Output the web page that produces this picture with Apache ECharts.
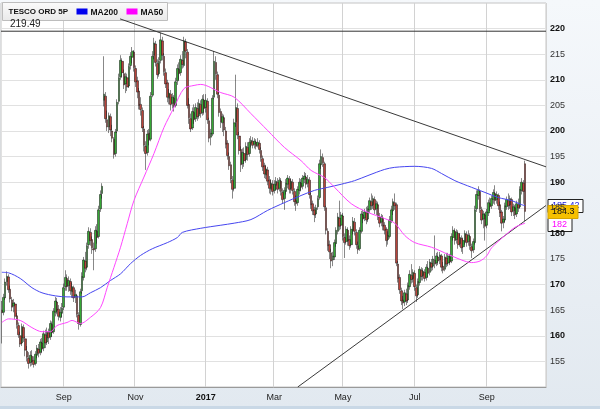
<!DOCTYPE html>
<html><head><meta charset="utf-8">
<script src="https://cdn.jsdelivr.net/npm/echarts/dist/echarts.min.js"></script>
<style>html,body{margin:0;padding:0;background:#fff}#c{width:600px;height:409px}</style>
</head><body><div id="c"></div>
<script>
// ---------- data ----------
const seriesName = 'TESCO ORD 5P';
const startDate = '2016-07-11';
const tradingDayCount = 326;
const holidays = ['2016-08-29','2016-12-26','2016-12-27','2017-01-02','2017-04-14','2017-04-17','2017-05-01','2017-05-29','2017-08-28'];
const monthNames = ['Jan','Feb','Mar','Apr','May','Jun','Jul','Aug','Sep','Oct','Nov','Dec'];
const yMin = 150, yMax = 225, yStep = 5;
// [open, close, low, high], one per trading day from startDate
const candles = [
[165.0,164.5,158.5,166.8],[164.6,167.5,164.0,168.2],[167.4,170.5,167.0,171.2],[170.6,171.6,169.8,172.6],[171.5,169.0,168.4,172.0],
[169.1,167.2,166.5,169.8],[167.0,165.6,164.8,167.6],[165.8,166.4,164.6,167.2],[166.2,163.8,163.2,166.6],[163.9,162.2,161.4,164.5],
[162.0,160.2,159.6,162.6],[160.0,158.4,157.8,160.8],[158.6,161.8,158.0,162.4],[161.6,159.6,158.8,162.2],[159.4,157.2,156.0,159.8],
[157.0,155.8,155.0,158.0],[155.6,154.6,153.6,156.8],[154.8,156.2,154.0,157.0],[156.0,155.0,154.2,157.2],[155.2,154.4,153.8,156.0],
[154.6,156.4,154.2,157.0],[156.2,157.6,155.6,158.2],[157.4,156.6,155.8,158.4],[156.8,158.8,156.2,159.4],[158.6,157.4,156.6,159.6],
[157.6,160.4,157.0,161.0],[160.2,158.6,157.6,161.2],[158.8,160.8,158.2,161.6],[160.6,159.6,158.4,161.4],[159.8,162.4,159.2,163.0],
[162.2,160.6,159.8,162.8],[160.8,164.8,160.4,165.4],[164.6,166.8,163.8,167.6],[166.6,165.0,164.2,167.4],[165.2,163.8,163.0,166.0],
[163.6,164.6,162.8,165.6],[164.4,165.4,163.6,166.4],[165.6,169.4,165.0,170.2],[169.6,171.4,168.8,172.8],[171.2,169.6,168.8,172.0],
[169.8,170.8,168.6,171.6],[170.6,168.8,168.0,171.2],[168.6,169.6,167.4,170.4],[169.4,167.4,166.6,169.8],[167.6,168.0,166.4,169.0],
[167.8,164.2,163.6,168.2],[164.0,162.4,161.2,164.6],[162.2,168.6,161.8,169.2],[168.8,171.6,168.2,172.4],[171.4,174.8,170.8,175.4],
[174.6,173.2,172.4,176.4],[173.4,177.6,172.8,178.2],[177.8,180.4,177.0,181.2],[180.2,178.6,177.6,181.0],[178.8,177.2,176.0,179.4],
[177.0,176.8,172.8,178.2],[177.0,180.6,176.4,181.4],[180.4,179.2,178.0,181.8],[179.4,184.6,179.0,185.4],[184.8,187.6,184.2,188.4],
[187.8,189.2,186.8,189.8],[206.0,207.2,204.8,214.6],[206.8,202.4,201.6,207.6],[202.2,200.8,200.0,204.0],[200.8,203.0,199.6,203.6],
[202.8,200.2,199.0,203.4],[200.0,198.6,197.8,201.2],[198.4,195.4,194.6,198.8],[195.6,199.8,195.0,200.4],[200.0,205.6,199.6,206.2],
[205.8,210.4,205.2,211.2],[210.6,213.8,210.0,214.8],[213.6,211.4,210.4,214.2],[211.2,209.0,208.2,212.0],[209.2,210.6,207.4,211.4],
[210.4,208.6,207.8,211.2],[208.8,212.6,208.4,213.2],[212.8,214.6,212.0,215.4],[214.4,215.6,213.2,216.4],[215.4,212.4,211.6,215.8],
[212.2,209.6,208.6,212.8],[209.8,207.6,206.4,210.6],[207.8,205.0,204.2,208.4],[205.2,204.2,203.0,206.6],[204.0,200.6,199.8,204.6],
[200.4,197.2,196.0,201.0],[197.0,195.6,192.4,198.0],[195.8,199.4,195.2,200.2],[199.6,198.2,197.2,200.4],[198.4,206.8,198.0,207.6],
[207.0,214.6,206.6,215.6],[214.8,217.2,214.0,218.2],[217.0,213.4,212.6,217.6],[213.2,211.0,210.2,214.0],[211.2,213.6,210.6,214.4],
[213.8,217.8,213.2,219.2],[217.6,214.8,213.8,218.4],[214.6,211.6,210.8,215.2],[211.4,209.2,208.4,212.2],[209.4,206.6,205.6,210.0],
[206.4,207.4,205.2,208.2],[207.2,205.2,204.0,208.0],[205.4,206.6,204.4,207.4],[206.4,204.8,203.8,207.0],[205.0,209.6,204.6,210.4],
[209.8,212.2,209.0,213.0],[212.0,211.2,210.0,213.4],[211.4,214.0,210.8,214.8],[213.8,213.0,212.2,215.6],[212.8,217.6,212.4,218.4],
[217.4,215.6,214.2,218.0],[215.4,205.0,204.4,216.0],[205.2,202.6,201.4,206.4],[202.4,200.4,199.8,203.4],[200.6,203.8,200.2,204.6],
[203.6,202.2,201.4,205.2],[202.4,204.6,201.8,205.4],[204.4,202.8,202.0,205.6],[203.0,205.4,202.4,206.2],[205.2,203.4,202.6,206.0],
[203.6,206.2,203.0,207.0],[206.0,204.4,203.2,207.2],[204.6,206.0,203.6,207.2],[205.8,202.2,201.4,206.4],[202.0,198.6,197.8,202.6],
[198.8,199.6,197.2,200.4],[199.4,206.4,199.0,207.0],[206.6,213.6,206.2,215.6],[213.4,211.2,210.0,214.6],[211.0,207.2,206.4,211.6],
[207.0,203.6,202.8,207.6],[203.8,201.8,200.6,204.4],[201.6,202.8,199.8,203.4],[202.6,200.2,199.0,203.2],[200.0,197.4,196.6,200.8],
[197.6,195.2,194.4,198.2],[195.0,193.2,192.4,195.8],[193.4,190.6,189.8,194.0],[190.4,188.6,186.8,191.2],[188.8,201.6,188.2,202.4],
[201.8,204.6,200.8,211.0],[204.4,199.2,198.4,205.4],[199.0,196.2,195.4,199.8],[196.4,193.4,192.0,197.0],[193.6,195.8,192.6,196.6],
[195.6,194.2,193.0,196.8],[194.4,197.0,193.8,197.8],[196.8,195.4,194.2,197.8],[195.6,197.8,195.0,198.6],[197.6,198.2,196.8,199.0],
[198.0,197.2,196.6,198.8],[197.4,198.0,196.6,198.6],[197.8,197.0,196.4,198.4],[197.2,197.8,196.8,198.6],[197.6,196.4,195.6,198.2],
[196.2,194.8,194.0,196.8],[194.6,193.0,192.2,195.2],[193.2,191.6,190.8,193.8],[191.4,192.6,190.6,193.4],[192.4,190.2,189.4,193.0],
[190.4,188.8,187.8,191.2],[188.6,189.8,187.6,190.6],[189.6,188.2,187.4,190.4],[188.4,189.6,187.8,190.4],[189.4,190.2,188.4,191.0],
[190.0,188.6,187.8,190.8],[188.8,190.4,188.2,191.0],[190.2,188.2,187.4,190.8],[188.0,186.6,185.8,188.8],[186.8,188.4,184.6,189.0],
[188.2,189.8,187.6,190.6],[189.6,190.8,188.8,191.4],[190.6,188.6,187.8,191.2],[188.8,190.2,187.8,190.8],[190.0,188.4,187.6,190.6],
[188.2,186.2,185.4,188.8],[186.4,185.8,184.4,187.4],[186.0,188.6,185.4,189.2],[188.4,190.0,187.6,190.8],[189.8,189.0,188.2,190.6],
[189.2,190.8,188.6,191.4],[190.6,191.2,189.8,192.0],[191.0,189.6,188.8,191.8],[189.8,190.6,189.0,191.4],[190.4,187.6,186.8,191.0],
[187.4,185.6,184.8,188.0],[185.8,184.4,183.6,186.4],[184.6,183.6,182.2,185.2],[183.8,185.0,183.0,185.6],[185.2,186.8,184.6,187.4],
[187.0,193.6,186.6,194.4],[193.4,195.0,192.6,196.4],[194.8,193.8,193.0,195.6],[193.6,185.2,184.4,194.0],[185.0,180.6,179.8,185.4],
[180.4,177.6,176.6,181.0],[177.8,176.4,175.0,178.6],[176.2,174.6,173.2,177.0],[174.8,175.6,173.6,176.4],[175.4,178.2,174.8,178.8],
[178.0,180.6,177.4,181.2],[180.4,183.2,179.8,184.0],[183.0,181.4,180.6,186.4],[181.6,183.6,180.8,184.2],[183.4,179.4,178.6,184.0],
[179.2,178.2,175.2,180.0],[178.4,180.8,177.8,181.4],[180.6,178.6,177.6,181.2],[178.8,177.6,176.8,179.6],[177.8,180.8,177.2,181.4],
[180.6,182.4,179.8,183.2],[182.2,180.4,179.6,183.0],[180.2,177.8,177.0,180.8],[177.6,176.8,176.0,178.4],[177.0,180.6,176.6,181.2],
[180.4,183.8,180.0,184.4],[183.6,182.8,182.0,184.6],[183.0,184.2,182.4,184.8],[184.0,182.6,181.8,185.2],[182.8,184.8,182.2,185.4],
[184.6,186.4,184.0,187.0],[186.2,185.4,184.6,187.8],[185.6,186.8,184.8,187.4],[186.6,184.6,183.8,187.2],[184.8,185.8,183.6,186.4],
[185.6,183.4,182.6,186.2],[183.2,182.0,181.2,184.0],[182.2,183.2,181.4,183.8],[183.0,181.4,180.6,183.6],[181.6,180.6,179.8,182.2],
[180.8,178.6,177.4,181.2],[178.8,179.6,177.8,180.4],[179.4,182.6,179.0,183.4],[182.4,184.6,182.0,185.4],[184.4,186.2,183.6,186.8],
[186.0,185.4,184.6,187.8],[185.6,174.2,173.6,186.0],[174.0,171.2,170.4,174.6],[171.4,169.0,168.2,172.0],[168.8,166.8,166.0,169.4],
[167.0,166.4,165.2,167.8],[166.6,168.4,165.8,169.0],[168.2,166.8,166.0,169.2],[167.0,169.8,166.4,170.4],[169.6,172.0,169.0,172.8],
[171.8,171.0,170.2,174.0],[171.2,172.4,170.4,173.0],[172.2,169.6,168.8,172.8],[169.4,167.8,166.6,170.0],[168.0,170.6,167.4,171.2],
[170.4,173.0,169.8,173.6],[172.8,171.6,170.8,173.4],[171.8,172.6,170.8,173.2],[172.4,171.2,170.6,173.0],[171.4,173.4,170.8,174.0],
[173.2,172.2,171.4,174.6],[172.4,174.4,171.8,175.0],[174.2,173.4,172.6,175.0],[173.6,175.0,172.8,175.6],[174.8,174.0,173.2,179.6],
[174.2,175.6,173.6,176.2],[175.4,174.6,173.8,176.4],[174.8,175.8,174.0,176.4],[175.6,173.4,172.6,176.0],[173.6,172.8,172.2,174.4],
[173.0,175.4,172.6,176.0],[175.2,174.0,173.4,176.2],[174.2,175.6,173.6,176.2],[175.4,174.4,173.8,176.0],[174.6,179.4,174.2,180.0],
[179.2,180.6,178.6,181.4],[180.4,178.6,177.8,181.0],[178.8,180.2,178.0,180.8],[180.0,177.8,177.0,180.6],[178.0,179.2,177.4,180.0],
[179.0,177.2,176.4,179.6],[177.4,178.6,176.0,179.2],[178.4,180.0,177.8,180.6],[179.8,178.2,177.4,180.4],[178.4,179.6,177.6,180.6],
[179.4,177.6,176.8,180.0],[177.4,176.6,175.2,178.0],[176.8,178.4,176.2,179.0],[178.2,184.6,177.8,185.4],[184.8,187.6,184.2,188.4],
[187.4,188.4,186.6,189.2],[188.2,184.8,184.0,188.6],[184.6,182.6,181.8,185.2],[182.8,183.8,181.0,184.4],[183.6,181.4,178.6,184.0],
[181.6,184.2,181.0,184.8],[184.0,186.0,183.4,186.6],[185.8,185.2,184.4,187.0],[185.4,186.8,184.8,187.4],[186.6,188.0,185.8,188.6],
[187.8,186.4,185.6,189.4],[186.6,187.6,185.8,188.2],[187.4,185.4,184.6,187.8],[185.6,184.0,183.2,186.2],[184.2,182.0,180.4,184.6],
[182.2,182.8,181.0,183.4],[182.6,185.4,182.0,186.0],[185.2,186.6,184.6,187.2],[186.4,185.4,184.6,187.8],[185.6,186.8,184.8,187.4],
[186.6,184.2,183.4,187.0],[184.4,185.2,183.4,185.8],[185.0,183.6,182.8,185.6],[183.8,185.8,183.2,186.4],[185.6,185.0,184.2,186.8],
[185.2,188.6,184.8,189.2],[188.4,190.0,187.6,190.8],[189.8,188.2,185.8,190.4],[193.6,184.3,182.4,194.2]
];
// moving averages read at sample trading days: [tradingDayIndex, value]
const ma200 = [[0,172.4],[4,172.3],[11,171.2],[18,169.4],[24,168.4],[32,167.8],[39,167.6],[48,167.6],[53,168.4],[59,169.4],
[65,170.8],[71,172.1],[77,174.1],[83,175.7],[90,177.0],[99,178.2],[105,179.2],[108,180.2],[119,181.0],[131,181.6],[139,182.0],
[149,182.7],[159,184.5],[169,186.0],[179,187.4],[187,188.4],[195,189.0],[203,189.6],[211,190.3],[219,191.3],[229,192.5],
[235,192.9],[247,193.1],[257,192.7],[263,191.7],[271,190.3],[281,189.0],[289,188.0],[297,187.0],[305,186.4],[311,185.6],[313,185.42]];
const ma50 = [[0,162.6],[4,163.3],[11,163.0],[18,161.6],[24,160.8],[29,160.8],[33,162.0],[39,162.6],[42,163.0],[47,162.4],
[53,163.6],[59,165.5],[63,169.4],[67,173.3],[71,177.3],[75,181.9],[79,186.4],[85,191.0],[91,195.6],[97,200.7],[103,204.6],
[109,208.3],[115,208.9],[119,209.1],[131,207.5],[139,206.6],[149,203.4],[159,200.1],[169,196.8],[179,194.2],[185,192.3],
[193,190.9],[199,189.0],[209,185.8],[219,184.1],[229,182.9],[235,182.0],[241,179.6],[247,178.2],[257,177.3],[267,175.9],
[275,174.8],[281,174.3],[286,174.6],[290,175.6],[293,177.2],[301,179.6],[307,181.2],[313,182.0]];
// trend lines in trading-day units (left edge of day 0 = 0)
const upperTrend = [[71.2,221.9],[326,193.0]];
const lowerTrend = [[177.5,150.0],[326,185.45]];
const resistanceLevel = 219.49;

// ---------- trading calendar ----------
function buildDates(){
  const out=[]; const d=new Date(startDate+'T12:00:00Z');
  while(out.length<tradingDayCount){
    const wd=d.getUTCDay(); const s=d.toISOString().slice(0,10);
    if(wd!==0&&wd!==6&&holidays.indexOf(s)<0) out.push(s);
    d.setUTCDate(d.getUTCDate()+1);
  }
  return out;
}
const dates = buildDates();
function isMonthMark(idx){
  if(idx<=0||idx>=dates.length) return false;
  const m=dates[idx].slice(5,7);
  return m!==dates[idx-1].slice(5,7) && (+m)%2===1;
}

const chart = echarts.init(document.getElementById('c'), null, {renderer:'canvas'});
const axisFont = 'Liberation Sans, Arial, sans-serif';
const option = {
  animation:false,
  backgroundColor:{type:'linear',x:0,y:0,x2:0,y2:1,colorStops:[{offset:0,color:'#f5f8fb'},{offset:1,color:'#e2e9f0'}]},
  grid:{left:1,right:54,top:3,bottom:22,show:true,backgroundColor:'#ffffff',borderColor:'#c4c4c4',borderWidth:1,containLabel:false,outerBoundsMode:'none'},
  xAxis:[{
    type:'category',data:dates,boundaryGap:true,
    axisLine:{show:true,lineStyle:{color:'#9a9a9a'}},
    axisTick:{show:false},
    axisLabel:{interval:(i)=>isMonthMark(i),margin:6,color:'#222',fontSize:9,fontFamily:axisFont,
      formatter:(v)=>{const m=+v.slice(5,7);return m===1?'{b|'+v.slice(0,4)+'}':monthNames[m-1];},
      rich:{b:{fontWeight:'bold',fontSize:9,color:'#111',fontFamily:axisFont}}},
    splitLine:{show:true,interval:(i)=>isMonthMark(i),lineStyle:{color:'#d2d2d2',width:1}}
  },{
    type:'value',min:0,max:tradingDayCount,show:false
  }],
  yAxis:{
    type:'value',position:'right',min:yMin,max:yMax,interval:yStep,scale:true,
    axisLine:{show:false},axisTick:{show:false},
    axisLabel:{margin:4,color:'#222',fontSize:9,fontFamily:axisFont,
      formatter:(v)=>{if(v<=yMin||v>=yMax)return '';return v%10===0?'{b|'+v+'}':'{n|'+v+'}';},
      rich:{b:{fontWeight:'bold',fontSize:9,color:'#111',fontFamily:axisFont},n:{fontSize:9,color:'#333',fontFamily:axisFont}}},
    splitLine:{show:true,lineStyle:{color:'#e1e1e1',width:1}}
  },
  series:[
    {name:'resistance',type:'line',xAxisIndex:1,data:[[0,resistanceLevel],[tradingDayCount,resistanceLevel]],
      symbol:'none',silent:true,lineStyle:{color:'#333',width:1},z:3},
    {name:'upper',type:'line',xAxisIndex:1,data:upperTrend,symbol:'none',silent:true,lineStyle:{color:'#3a3a3a',width:1},z:3},
    {name:'lower',type:'line',xAxisIndex:1,data:lowerTrend,symbol:'none',silent:true,lineStyle:{color:'#3a3a3a',width:1},z:3},
    {name:seriesName,type:'candlestick',data:candles,barWidth:2.1,
      itemStyle:{color:'#36a836',color0:'#b8433a',borderColor:'#111',borderColor0:'#111',borderWidth:0.5},z:4},
    {name:'MA200',type:'line',xAxisIndex:1,data:ma200.map(p=>[p[0]+0.5,p[1]]),symbol:'none',smooth:0.3,
      lineStyle:{color:'#4646f0',width:1},z:5},
    {name:'MA50',type:'line',xAxisIndex:1,data:ma50.map(p=>[p[0]+0.5,p[1]]),symbol:'none',smooth:0.3,
      lineStyle:{color:'#ff46ff',width:1},z:5}
  ]
};
chart.setOption(option);

// ---------- overlay texts placed from the axis scale ----------
const yPx = v => chart.convertToPixel({yAxisIndex:0}, v);
const last = candles[candles.length-1];
const lastClose = last[1];
const lastMA200 = ma200[ma200.length-1][1];
const lastMA50 = ma50[ma50.length-1][1];
const boxX = 548, boxH = 13;
const yB = yPx(lastMA200), yO = yPx(lastClose);
const yM = Math.max(yPx(lastMA50), yO + boxH);
const font = 'Liberation Sans, Arial, sans-serif';
function box(y, w, txt, fill, stroke, color, z){
  return {type:'group',x:boxX,y:Math.round(y-boxH/2)+0.5,z:z,children:[
    {type:'rect',shape:{x:0,y:0,width:w,height:boxH},style:{fill:fill,stroke:stroke,lineWidth:1}},
    {type:'text',x:4,y:2,style:{text:txt,fill:color,font:'9px '+font}}
  ]};
}
const graphics = [
  {type:'group',x:2.5,y:2.5,z:20,children:[
    {type:'rect',shape:{x:0,y:0,width:165,height:18},style:{fill:{type:'linear',x:0,y:0,x2:0,y2:1,colorStops:[{offset:0,color:'#fbfbfb'},{offset:1,color:'#e9e9e9'}]},stroke:'#bdbdbd',lineWidth:1}},
    {type:'text',x:6,y:5.5,style:{text:seriesName,fill:'#111',font:'bold 8px '+font}},
    {type:'rect',shape:{x:74,y:6,width:11,height:6},style:{fill:'#0000ee'}},
    {type:'text',x:88,y:5.5,style:{text:'MA200',fill:'#111',font:'bold 8.5px '+font}},
    {type:'rect',shape:{x:124,y:6,width:11,height:6},style:{fill:'#ff00ff'}},
    {type:'text',x:138,y:5.5,style:{text:'MA50',fill:'#111',font:'bold 8.5px '+font}}
  ]},
  {type:'text',x:10,y:yPx(resistanceLevel)-12,z:20,style:{text:resistanceLevel.toFixed(2),fill:'#222',font:'10px '+font}},
  box(yB, 35, String(lastMA200), '#ffffff', '#222', '#2020e0', 21),
  box(yM, 24, String(lastMA50), '#ffffff', '#222', '#ff00ff', 21),
  box(yO, 30, String(lastClose), '#f6c000', '#d7a600', '#111', 22),
  {type:'rect',left:0,bottom:0,z:0,shape:{width:600,height:3},style:{fill:'#c9d8e6'}}
];
chart.setOption({graphic:graphics});
</script>
</body></html>
